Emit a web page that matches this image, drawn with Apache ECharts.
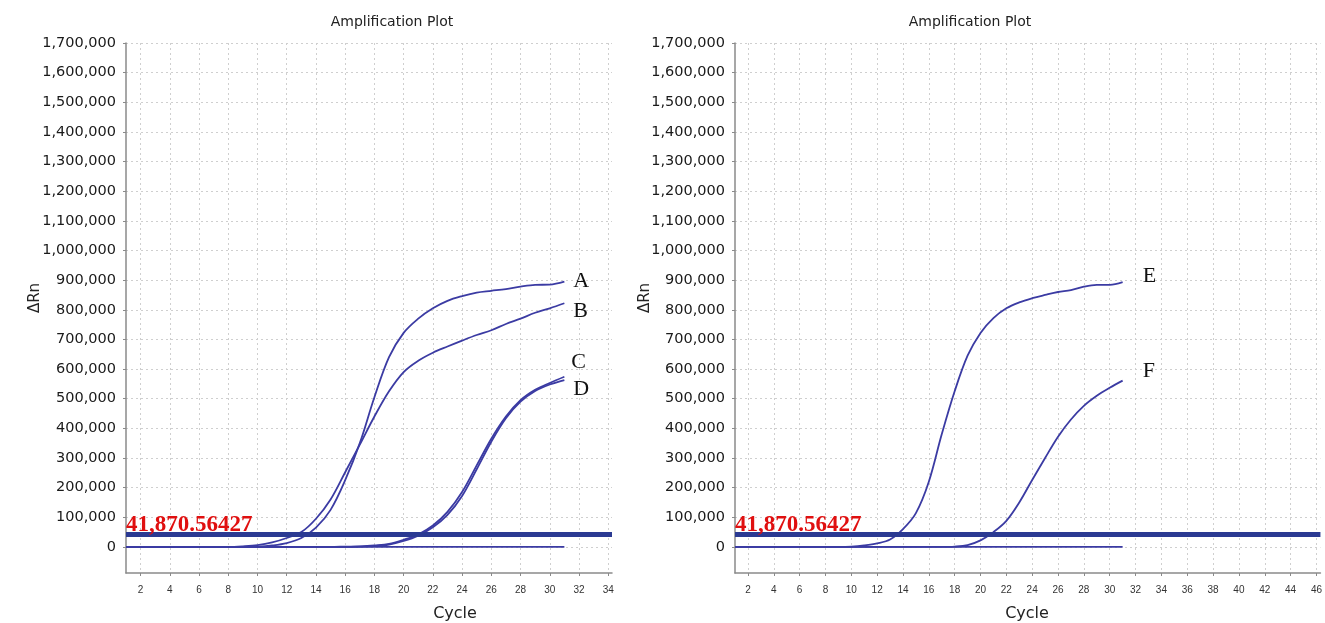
<!DOCTYPE html>
<html><head><meta charset="utf-8">
<script src="https://cdn.jsdelivr.net/npm/echarts@6/dist/echarts.min.js"></script>
<style>html,body{margin:0;padding:0;background:#fff}#c{width:1325px;height:623px}</style>
</head><body><div id="c"></div>
<script>
const cycles = [1,2,3,4,5,6,7,8,9,10,11,12,13,14,15,16,17,18,19,20,21,22,23,24,25,26,27,28,29,30,31];
const curveA = [0,0,0,0,0,0,0,0,0,1000,5000,13000,30000,65000,125000,225000,350000,505000,640000,722000,770000,805000,830000,846000,858000,864000,870000,878000,884000,885000,895000];
const curveB = [0,0,0,0,0,0,0,0,2000,6000,15000,30000,50000,95000,160000,252000,345000,440000,525000,590000,628000,655000,676000,696000,715000,731000,752000,770000,790000,805000,822000];
const curveC = [0,0,0,0,0,0,0,0,0,0,0,0,0,0,0,1000,2000,5000,10000,24000,42000,72000,118000,185000,275000,365000,440000,495000,530000,553000,574000];
const curveD = [0,0,0,0,0,0,0,0,0,0,0,0,0,0,0,0,1000,3000,8000,20000,38000,66000,108000,172000,262000,355000,434000,490000,526000,548000,563000];
const curveE = [0,0,0,0,0,0,0,0,0,1000,5000,12000,25000,60000,114000,220000,380000,525000,645000,722000,772000,805000,825000,839000,850000,860000,866000,878000,884000,884000,893000];
const curveF = [0,0,0,0,0,0,0,0,0,0,0,0,0,0,0,0,0,1000,6000,22000,50000,88000,150000,226000,300000,372000,430000,476000,510000,537000,561000];
const baseline = [0,0,0,0,0,0,0,0,0,0,0,0,0,0,0,0,0,0,0,0,0,0,0,0,0,0,0,0,0,0,0];
const THRESHOLD = 41870.56427;
const yTicks = [0,100000,200000,300000,400000,500000,600000,700000,800000,900000,1000000,1100000,1200000,1300000,1400000,1500000,1600000,1700000];
const xTicksLeft = [2,4,6,8,10,12,14,16,18,20,22,24,26,28,30,32,34];
const xTicksRight = [2,4,6,8,10,12,14,16,18,20,22,24,26,28,30,32,34,36,38,40,42,44,46];
const titleText = 'Amplification Plot';
const xName = 'Cycle';
const yName = 'ΔRn';

const LINE = '#3b3ba3';
const THR = '#2b3a92';
const pairs = arr => cycles.map((c, i) => [c, arr[i]]);
const fmtY = v => v.toLocaleString('en-US');
const thrText = THRESHOLD.toLocaleString('en-US', {maximumFractionDigits: 5});

function xAxisCfg(gi, max, ticks) {
  return {
    type: 'value', gridIndex: gi, min: 1, max: max,
    axisLine: {show: true, onZero: false, lineStyle: {color: '#8a8a8a', width: 1.5}},
    axisTick: {show: true, customValues: ticks, length: 3, lineStyle: {color: '#8a8a8a'}},
    axisLabel: {customValues: ticks, color: '#333', fontFamily: 'Liberation Sans', fontSize: 10, margin: 12},
    splitLine: {show: true, lineStyle: {type: [2, 3], color: '#cfcfcf'}}
  };
}
function yAxisCfg(gi) {
  return {
    type: 'value', gridIndex: gi, min: -88000, max: 1700000,
    axisLine: {show: true, lineStyle: {color: '#8a8a8a', width: 1.5}},
    axisTick: {show: true, customValues: yTicks, length: 3, lineStyle: {color: '#8a8a8a'}},
    axisLabel: {customValues: yTicks, formatter: fmtY, color: '#1a1a1a', fontFamily: 'DejaVu Sans', fontSize: 14.5, margin: 10},
    splitLine: {show: true, lineStyle: {type: [2, 3], color: '#cfcfcf'}}
  };
}
function curve(name, arr, gi, off) {
  return {
    type: 'line', name: name, xAxisIndex: gi, yAxisIndex: gi, data: pairs(arr),
    showSymbol: false, smooth: 0.35, lineStyle: {color: LINE, width: 1.8}, z: 3,
    endLabel: {show: true, formatter: p => p.seriesName, distance: 0, offset: off,
      fontFamily: 'Liberation Serif', fontSize: 22, color: '#111'}
  };
}
function base(gi) {
  return {
    type: 'line', name: 'baseline' + gi, xAxisIndex: gi, yAxisIndex: gi, data: pairs(baseline),
    showSymbol: false, lineStyle: {color: LINE, width: 1.8}, z: 2,
    markLine: {
      silent: true, symbol: ['none', 'none'],
      lineStyle: {color: THR, width: 5, type: 'solid'},
      label: {show: true, position: 'insideStartTop', formatter: thrText, distance: [0, -2],
        color: '#e01010', fontFamily: 'Liberation Serif', fontWeight: 'bold', fontSize: 23},
      data: [{yAxis: THRESHOLD}]
    }
  };
}

const txt = (x, y, t, size, extra) => Object.assign({type: 'text', x: x, y: y,
  style: {text: t, fill: '#222', font: size + 'px "DejaVu Sans"', textAlign: 'center', textVerticalAlign: 'middle'}}, extra || {});

const chart = echarts.init(document.getElementById('c'), null, {renderer: 'canvas'});
chart.setOption({
  animation: false,
  backgroundColor: '#fff',
  grid: [
    {left: 126, top: 43, width: 486, height: 530},
    {left: 735, top: 43, width: 587, height: 530}
  ],
  xAxis: [xAxisCfg(0, 34.26, xTicksLeft), xAxisCfg(1, 46.31, xTicksRight)],
  yAxis: [yAxisCfg(0), yAxisCfg(1)],
  graphic: [
    txt(392, 22, titleText, 14),
    txt(970, 22, titleText, 14),
    txt(455, 614, xName, 16),
    txt(1027, 614, xName, 16),
    txt(35, 298, yName, 15, {rotation: Math.PI / 2}),
    txt(645, 298, yName, 15, {rotation: Math.PI / 2})
  ],
  series: [
    base(0),
    curve('A', curveA, 0, [9, 0]),
    curve('B', curveB, 0, [9, 8]),
    curve('C', curveC, 0, [7, -15]),
    curve('D', curveD, 0, [9, 9]),
    base(1),
    curve('E', curveE, 1, [20, -6]),
    curve('F', curveF, 1, [20, -9])
  ]
});
</script></body></html>
